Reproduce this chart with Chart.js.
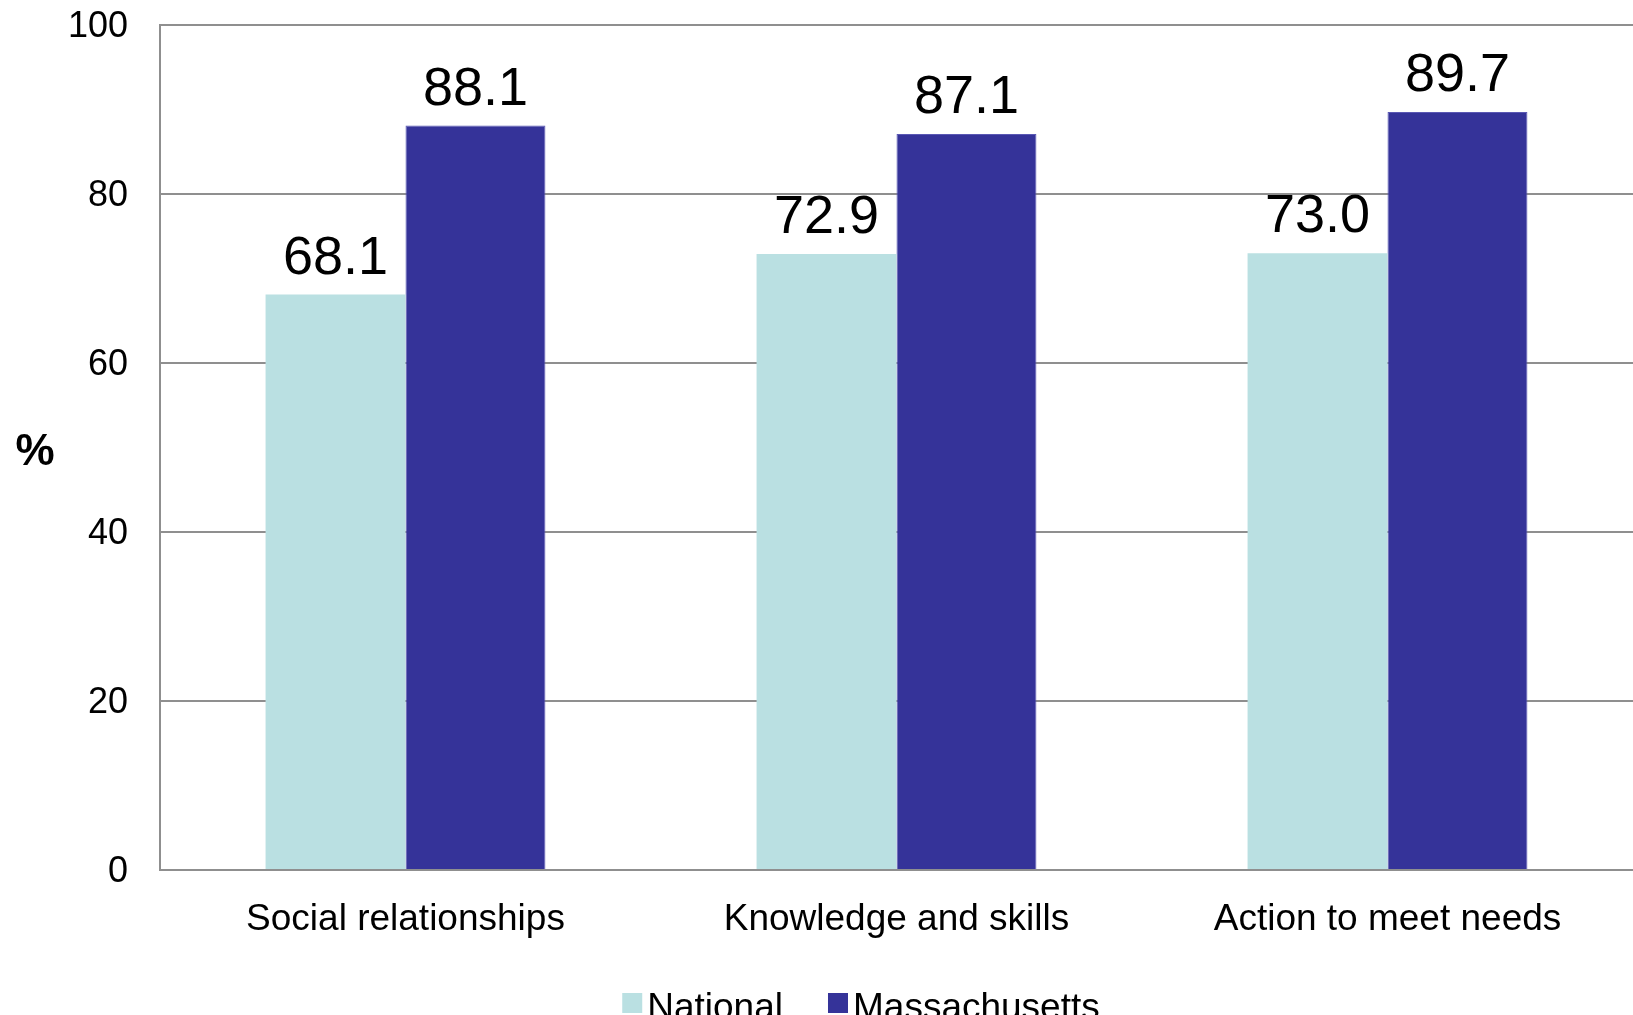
<!DOCTYPE html>
<html>
<head>
<meta charset="utf-8">
<title>National vs Massachusetts</title>
<script src="https://cdn.jsdelivr.net/npm/chart.js@4/dist/chart.umd.min.js"></script>
<style>
  html, body { margin: 0; padding: 0; background: #ffffff; overflow: hidden; }
  #wrap { width: 1633px; height: 1015px; }
</style>
</head>
<body>
<div id="wrap"><canvas id="chart" width="1633" height="1015"></canvas></div>
<script>
// Categories and series values
const categories = ["Social relationships", "Knowledge and skills", "Action to meet needs"];
const nationalValues = [68.1, 72.9, 73.0];
const massachusettsValues = [88.1, 87.1, 89.7];
const seriesNames = ["National", "Massachusetts"];
const yTicks = [0, 20, 40, 60, 80, 100];
const yAxisLabel = "%";

const FONT = "'Liberation Sans', Arial, Helvetica, sans-serif";
const LIGHT = "#bae0e2";
const DARK = "#353399";
const GRID = "#8f8f8f";

// Value labels above each bar
const valueLabels = {
  id: "valueLabels",
  afterDatasetsDraw(chart) {
    const ctx = chart.ctx;
    ctx.save();
    ctx.font = "54px " + FONT;
    ctx.fillStyle = "#000000";
    ctx.textAlign = "center";
    ctx.textBaseline = "alphabetic";
    chart.data.datasets.forEach((ds, di) => {
      chart.getDatasetMeta(di).data.forEach((bar, i) => {
        ctx.fillText(ds.data[i].toFixed(1), bar.x, bar.y - 21);
      });
    });
    ctx.restore();
  }
};

// Horizontal "%" axis caption
const axisCaption = {
  id: "axisCaption",
  afterDraw(chart) {
    const ctx = chart.ctx;
    ctx.save();
    ctx.font = "bold 44px " + FONT;
    ctx.fillStyle = "#000000";
    ctx.textAlign = "center";
    ctx.textBaseline = "alphabetic";
    const a = chart.chartArea;
    ctx.fillText(yAxisLabel, 35, (a.top + a.bottom) / 2 + 17);
    ctx.restore();
  }
};

// Legend row along the bottom edge
const bottomLegend = {
  id: "bottomLegend",
  afterDraw(chart) {
    const ctx = chart.ctx;
    ctx.save();
    ctx.font = "37px " + FONT;
    ctx.textBaseline = "alphabetic";
    ctx.textAlign = "left";
    const box = 20, gapText = 5, gapItem = 45;
    const items = chart.data.datasets.map(ds => ({
      label: ds.label, color: ds.backgroundColor, w: ctx.measureText(ds.label).width
    }));
    let total = 0;
    items.forEach((it, i) => { total += box + gapText + it.w + (i ? gapItem : 0); });
    let x = 861 - total / 2;
    const boxTop = 993, baseline = 1019;
    items.forEach((it, i) => {
      if (i) x += gapItem;
      ctx.fillStyle = it.color;
      ctx.fillRect(x, boxTop, box, box);
      x += box + gapText;
      ctx.fillStyle = "#000000";
      ctx.fillText(it.label, x, baseline);
      x += it.w;
    });
    ctx.restore();
  }
};

new Chart(document.getElementById("chart"), {
  type: "bar",
  data: {
    labels: categories,
    datasets: [
      { label: seriesNames[0], data: nationalValues, backgroundColor: LIGHT, borderWidth: 0 },
      { label: seriesNames[1], data: massachusettsValues, backgroundColor: DARK,
        borderColor: "#5a58b4", borderWidth: 1 }
    ]
  },
  options: {
    responsive: false,
    animation: false,
    devicePixelRatio: 1,
    layout: { padding: { top: 25, left: 0, right: 0, bottom: 0 } },
    plugins: {
      legend: { display: false },
      tooltip: { enabled: false }
    },
    datasets: {
      bar: { categoryPercentage: 0.57, barPercentage: 1.0 }
    },
    scales: {
      x: {
        grid: { display: false, drawTicks: false },
        border: { display: true, color: GRID, width: 2 },
        ticks: { color: "#000000", font: { family: FONT, size: 37 }, padding: 28, maxRotation: 0 },
        afterFit(scale) { scale.height = 145; scale.paddingLeft = 0; scale.paddingRight = 0; }
      },
      y: {
        min: 0,
        max: 100,
        afterBuildTicks(scale) { scale.ticks = yTicks.map(v => ({ value: v })); },
        grid: { color: GRID, lineWidth: 2, drawTicks: false },
        border: { display: true, color: GRID, width: 2 },
        ticks: { color: "#000000", font: { family: FONT, size: 36 }, padding: 32, labelOffset: 2 },
        afterFit(scale) { scale.width = 160; scale.paddingTop = 0; scale.paddingBottom = 0; }
      }
    }
  },
  plugins: [valueLabels, axisCaption, bottomLegend]
});
</script>
</body>
</html>
